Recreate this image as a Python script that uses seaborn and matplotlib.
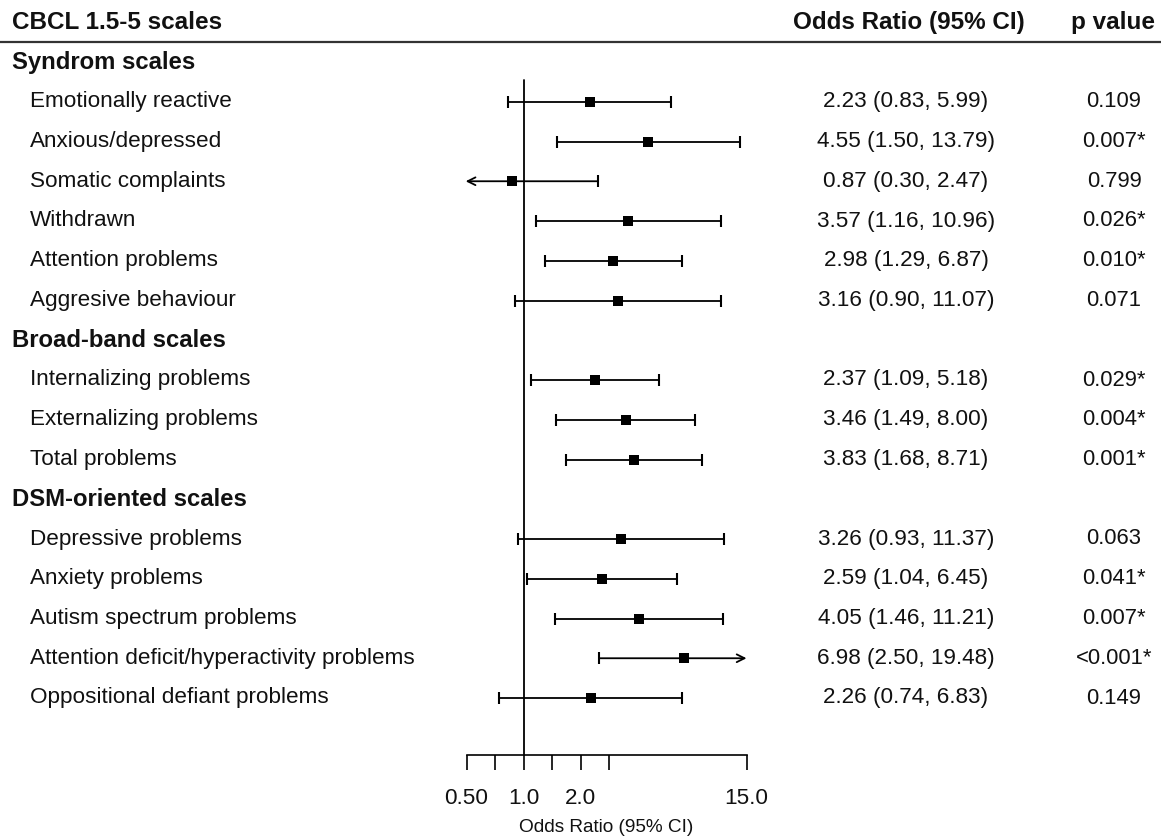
import matplotlib
matplotlib.use("Agg")
import matplotlib.pyplot as plt
import matplotlib.transforms as mtransforms
from matplotlib.lines import Line2D
from matplotlib.ticker import NullLocator
import pandas as pd
import seaborn as sns

# Forest plot data (CBCL 1.5-5 scales)
groups = ["Syndrom scales", "Broad-band scales", "DSM-oriented scales"]
group_sizes = [6, 3, 5]
scales = [
    "Emotionally reactive", "Anxious/depressed", "Somatic complaints", "Withdrawn",
    "Attention problems", "Aggresive behaviour",
    "Internalizing problems", "Externalizing problems", "Total problems",
    "Depressive problems", "Anxiety problems", "Autism spectrum problems",
    "Attention deficit/hyperactivity problems", "Oppositional defiant problems",
]
odds = [2.23, 4.55, 0.87, 3.57, 2.98, 3.16, 2.37, 3.46, 3.83, 3.26, 2.59, 4.05, 6.98, 2.26]
ci_low = [0.83, 1.50, 0.30, 1.16, 1.29, 0.90, 1.09, 1.49, 1.68, 0.93, 1.04, 1.46, 2.50, 0.74]
ci_high = [5.99, 13.79, 2.47, 10.96, 6.87, 11.07, 5.18, 8.00, 8.71, 11.37, 6.45, 11.21, 19.48, 6.83]
p_values = ["0.109", "0.007*", "0.799", "0.026*", "0.010*", "0.071",
            "0.029*", "0.004*", "0.001*",
            "0.063", "0.041*", "0.007*", "<0.001*", "0.149"]
tick_values = [0.5, 0.71, 1.0, 1.41, 2.0, 2.83, 15.0]
tick_labels = ["0.50", "", "1.0", "", "2.0", "", "15.0"]
x_min, x_max = 0.5, 15.0

W, H = 1161, 839
TXT = "#111111"

# row index for every group header and scale
group_rows = []
item_rows = []
r = 0
for size in group_sizes:
    group_rows.append(r)
    r += 1
    for _ in range(size):
        item_rows.append(r)
        r += 1

df = pd.DataFrame({"scale": scales, "odds": odds, "low": ci_low,
                   "high": ci_high, "p": p_values, "row": item_rows})

sns.set_theme(style="white")
plt.rcParams["font.family"] = ["Liberation Sans", "DejaVu Sans"]

fig = plt.figure(figsize=(W / 100, H / 100), dpi=100)
fig.patch.set_facecolor("white")

# forest panel; rows are 39.75 px apart, first group header at y=62 px
row_px, row0_px, axis_px = 39.75, 62, 755
ax = fig.add_axes([466.5 / W, (H - axis_px) / H, 280 / W, axis_px / H])
ax.set_xscale("log")
r_top = -row0_px / row_px
r_bot = (axis_px - row0_px) / row_px

# confidence intervals
for _, d in df.iterrows():
    lo = max(d["low"], x_min)
    hi = min(d["high"], x_max)
    y = d["row"]
    if d["low"] < x_min:
        ax.annotate("", xy=(lo * 0.99, y), xytext=(hi, y),
                    arrowprops=dict(arrowstyle="->", lw=1.3, color="black",
                                    shrinkA=0, shrinkB=0, mutation_scale=14),
                    annotation_clip=False)
    elif d["high"] > x_max:
        ax.annotate("", xy=(hi, y), xytext=(lo, y),
                    arrowprops=dict(arrowstyle="->", lw=1.3, color="black",
                                    shrinkA=0, shrinkB=0, mutation_scale=14),
                    annotation_clip=False)
    else:
        ax.plot([lo, hi], [y, y], color="black", lw=1.3, clip_on=False)
    if d["low"] >= x_min:
        ax.plot([lo], [y], marker="|", ms=8, mew=1.5, color="black", clip_on=False)
    if d["high"] <= x_max:
        ax.plot([hi], [y], marker="|", ms=8, mew=1.5, color="black", clip_on=False)

sns.scatterplot(data=df, x="odds", y="row", marker="s", s=60, color="black",
                linewidth=0, legend=False, ax=ax, zorder=3, clip_on=False)

# reference line at OR = 1
ax.plot([1.0, 1.0], [r_bot, 0.45], color="black", lw=1.3, clip_on=False)

ax.set_xlim(x_min, x_max)
ax.set_ylim(r_bot, r_top)
ax.set_xticks(tick_values)
ax.set_xticklabels(tick_labels)
ax.xaxis.set_minor_locator(NullLocator())
ax.set_yticks([])
ax.set_xlabel("")
ax.set_ylabel("")
for side in ["left", "top", "right"]:
    ax.spines[side].set_visible(False)
ax.spines["bottom"].set_color("black")
ax.spines["bottom"].set_linewidth(1.2)
ax.tick_params(axis="x", direction="out", length=11, width=1.2, color="black",
               labelsize=16.2, labelcolor=TXT, pad=13, bottom=True)
ax.patch.set_alpha(0)

fig.text(606 / W, 1 - 827 / H, "Odds Ratio (95% CI)", ha="center", va="center",
         fontsize=13.7, color=TXT)

# text columns
tr = mtransforms.blended_transform_factory(fig.transFigure, ax.transData)
ax.text(12 / W, -1, "CBCL 1.5-5 scales", transform=tr, ha="left", va="center",
        fontsize=17.5, fontweight="bold", color=TXT)
ax.text(909 / W, -1, "Odds Ratio (95% CI)", transform=tr, ha="center", va="center",
        fontsize=17.5, fontweight="bold", color=TXT)
ax.text(1113 / W, -1, "p value", transform=tr, ha="center", va="center",
        fontsize=17.5, fontweight="bold", color=TXT)
fig.add_artist(Line2D([0, 1], [1 - 42 / H, 1 - 42 / H], transform=fig.transFigure,
                      color="#333333", lw=1.6))

for g, gr in zip(groups, group_rows):
    ax.text(12 / W, gr, g, transform=tr, ha="left", va="center",
            fontsize=17.2, fontweight="bold", color=TXT)

for _, d in df.iterrows():
    y = d["row"]
    ax.text(30 / W, y, d["scale"], transform=tr, ha="left", va="center",
            fontsize=16.2, color=TXT)
    ci_txt = f"{d['odds']:.2f} ({d['low']:.2f}, {d['high']:.2f})"
    ax.text(906 / W, y, ci_txt, transform=tr, ha="center", va="center",
            fontsize=16.2, color=TXT)
    ax.text(1114 / W, y, d["p"], transform=tr, ha="center", va="center",
            fontsize=15.8, color=TXT)

fig.savefig("out.png", dpi=100, facecolor="white")
